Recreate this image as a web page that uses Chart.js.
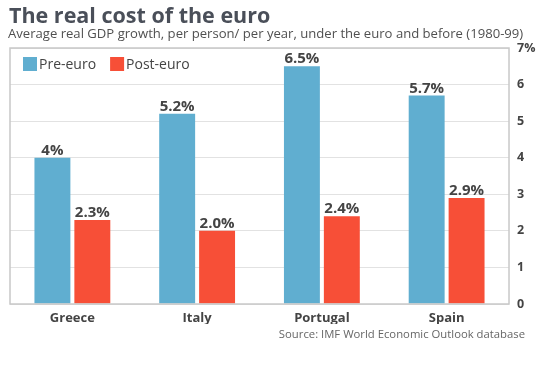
<!DOCTYPE html>
<html>
<head>
<meta charset="utf-8">
<script src="https://cdn.jsdelivr.net/npm/chart.js@4/dist/chart.umd.min.js"></script>
<style>
html,body{margin:0;padding:0;background:#fff;}
#wrap{width:549px;height:377px;position:relative;}
</style>
</head>
<body>
<div id="wrap"><canvas id="c" width="549" height="377"></canvas></div>
<script>
const categories = ["Greece", "Italy", "Portugal", "Spain"];
const preEuro = [4.0, 5.2, 6.5, 5.7];
const postEuro = [2.3, 2.0, 2.4, 2.9];
const preLabels = ["4%", "5.2%", "6.5%", "5.7%"];
const postLabels = ["2.3%", "2.0%", "2.4%", "2.9%"];
const seriesNames = ["Pre-euro", "Post-euro"];
const yTicks = [0, 1, 2, 3, 4, 5, 6, 7];

const titleText = "The real cost of the euro";
const subtitleText = "Average real GDP growth, per person/ per year, under the euro and before (1980-99)";
const sourceText = "Source: IMF World Economic Outlook database";

const BLUE = "#60aed0";
const RED = "#f74f37";
const FONT = "'Open Sans', 'DejaVu Sans', sans-serif";

const decor = {
  id: 'decor',
  beforeDraw(chart) {
    const ctx = chart.ctx;
    ctx.save();
    ctx.fillStyle = '#fff';
    ctx.fillRect(0, 0, chart.width, chart.height);
    ctx.restore();
  },
  afterDatasetsDraw(chart) {
    const ctx = chart.ctx;
    const a = chart.chartArea;
    ctx.save();
    // plot frame
    ctx.strokeStyle = '#c8c8c8';
    ctx.lineWidth = 1.5;
    ctx.strokeRect(a.left, a.top, a.right - a.left, a.bottom - a.top);
    // title
    ctx.fillStyle = '#4a4f59';
    ctx.textBaseline = 'alphabetic';
    ctx.textAlign = 'left';
    ctx.font = "bold 21.5px " + FONT;
    ctx.fillText(titleText, 9, 23);
    ctx.fillStyle = '#505050';
    ctx.font = "13.1px " + FONT;
    ctx.fillText(subtitleText, 8, 38);
    // source
    ctx.fillStyle = '#666';
    ctx.font = "11.3px " + FONT;
    ctx.textAlign = 'right';
    ctx.textBaseline = 'middle';
    ctx.fillText(sourceText, 525, 335);
    // legend
    ctx.textAlign = 'left';
    ctx.textBaseline = 'middle';
    ctx.font = "14px " + FONT;
    const ly = 64;
    let lx = 23;
    chart.data.datasets.forEach((ds, i) => {
      ctx.fillStyle = ds.backgroundColor;
      ctx.fillRect(lx, ly - 7, 14, 14);
      ctx.fillStyle = '#444';
      ctx.fillText(ds.label, lx + 16, ly + 1);
      lx += 16 + ctx.measureText(ds.label).width + 14;
    });
    // value labels
    ctx.font = "bold 15px " + FONT;
    ctx.fillStyle = '#444';
    ctx.textAlign = 'center';
    ctx.textBaseline = 'alphabetic';
    const labelSets = [preLabels, postLabels];
    chart.data.datasets.forEach((ds, i) => {
      const meta = chart.getDatasetMeta(i);
      meta.data.forEach((bar, j) => {
        ctx.fillText(labelSets[i][j], bar.x, bar.y - 3);
      });
    });
    ctx.restore();
  }
};

new Chart(document.getElementById('c'), {
  type: 'bar',
  data: {
    labels: categories,
    datasets: [
      { label: seriesNames[0], data: preEuro, backgroundColor: BLUE, borderWidth: 0 },
      { label: seriesNames[1], data: postEuro, backgroundColor: RED, borderWidth: 0 }
    ]
  },
  options: {
    responsive: false,
    animation: false,
    devicePixelRatio: 1,
    layout: { padding: { left: 10, top: 48, right: 0, bottom: 53 } },
    plugins: { legend: { display: false }, title: { display: false }, tooltip: { enabled: false } },
    datasets: { bar: { categoryPercentage: 0.64, barPercentage: 0.9 } },
    scales: {
      x: {
        grid: { display: false, drawTicks: false },
        border: { display: false },
        ticks: { color: '#444', font: { family: FONT, size: 13, weight: 'bold' }, padding: 6 },
        afterFit(s) { s.height = 20; }
      },
      y: {
        position: 'right',
        min: 0, max: 7,
        afterBuildTicks(s) { s.ticks = yTicks.map(v => ({ value: v })); },
        grid: { color: '#e2e2e2', lineWidth: 1, drawTicks: false },
        border: { display: false },
        ticks: {
          color: '#444',
          padding: 8,
          font: { family: FONT, size: 12.5, weight: 'bold' },
          callback: (v) => v === 7 ? v + '%' : String(v)
        },
        afterFit(s) { s.width = 40; }
      }
    }
  },
  plugins: [decor]
});
</script>
</body>
</html>
